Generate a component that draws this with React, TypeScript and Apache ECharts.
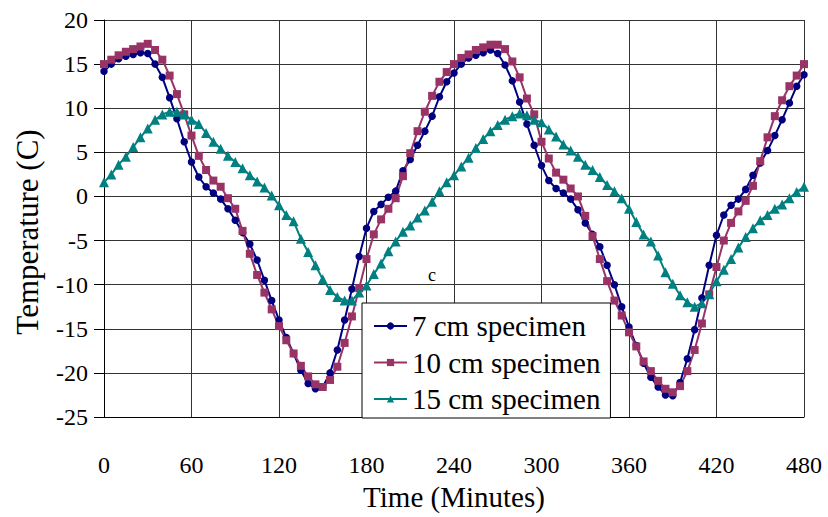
import React, { useEffect, useRef } from "react";
import * as echarts from "echarts";

const times = [
  0, 5, 10, 15, 20, 25, 30, 35, 40, 45, 50, 55, 60, 65, 70, 75, 80, 85, 90, 95,
  100, 105, 110, 115, 120, 125, 130, 135, 140, 145, 150, 155, 160, 165, 170, 175, 180, 185, 190, 195,
  200, 205, 210, 215, 220, 225, 230, 235, 240, 245, 250, 255, 260, 265, 270, 275, 280, 285, 290, 295,
  300, 305, 310, 315, 320, 325, 330, 335, 340, 345, 350, 355, 360, 365, 370, 375, 380, 385, 390, 395,
  400, 405, 410, 415, 420, 425, 430, 435, 440, 445, 450, 455, 460, 465, 470, 475, 480,
];

const specimen7 = [
  14.2, 15.0, 15.6, 15.9, 16.1, 16.3, 16.2, 15.0, 13.5, 11.2, 8.8, 6.2, 3.9, 2.2, 1.1, 0.4, -0.3, -1.4, -2.7, -4.1,
  -5.4, -7.2, -9.5, -11.8, -14.0, -16.0, -17.8, -19.7, -21.2, -21.8, -21.6, -20.0, -17.4, -14.0, -10.5, -6.8, -3.6, -1.7, -0.9, -0.1,
  0.6, 2.9, 4.2, 5.8, 7.4, 9.1, 11.3, 13.0, 14.0, 15.0, 15.7, 16.0, 16.3, 16.6, 16.2, 14.9, 13.1, 10.7, 8.2, 5.8,
  3.5, 1.8, 0.9, 0.4, -0.3, -1.5, -3.0, -4.3, -5.7, -7.8, -10.0, -12.5, -14.8, -16.9, -18.9, -20.5, -21.6, -22.5, -22.6, -21.1,
  -18.4, -15.1, -11.5, -7.8, -4.4, -2.1, -1.0, -0.3, 0.8, 2.4, 3.8, 5.2, 6.9, 8.7, 10.6, 12.5, 13.8,
];

const specimen10 = [
  15.0, 15.5, 16.0, 16.4, 16.7, 17.0, 17.3, 16.6, 15.5, 13.7, 11.6, 9.3, 6.9, 4.6, 3.0, 1.8, 1.1, -0.2, -1.4, -3.9,
  -6.5, -8.9, -10.9, -12.8, -14.7, -16.3, -17.8, -19.2, -20.4, -21.3, -21.6, -20.8, -19.3, -16.6, -13.6, -10.4, -7.1, -4.3, -2.6, -1.4,
  -0.2, 2.3, 4.9, 7.4, 9.6, 11.4, 13.0, 14.1, 15.0, 15.7, 16.1, 16.6, 16.9, 17.2, 17.2, 16.7, 15.3, 13.5, 11.1, 9.3,
  6.2, 4.3, 2.7, 1.9, 0.9, 0.0, -2.2, -4.5, -7.1, -9.6, -11.8, -13.5, -15.4, -17.0, -18.7, -19.8, -20.9, -21.8, -22.2, -21.5,
  -19.8, -17.4, -14.4, -11.1, -8.0, -5.0, -3.0, -1.7, -0.5, 1.2, 4.0, 6.7, 9.1, 10.9, 12.5, 13.7, 15.0,
];

const specimen15 = [
  1.6, 2.5, 3.6, 4.5, 5.6, 6.7, 7.7, 8.7, 9.3, 9.6, 9.6, 9.3, 8.7, 8.2, 7.2, 6.2, 5.4, 4.6, 3.9, 3.2,
  2.4, 1.7, 1.0, 0.1, -1.0, -2.1, -2.8, -4.8, -6.3, -7.8, -9.4, -10.6, -11.4, -11.8, -11.8, -10.9, -10.1, -8.8, -7.6, -6.2,
  -5.1, -4.0, -3.3, -2.4, -1.6, -0.6, 0.6, 1.6, 2.4, 3.4, 4.4, 5.5, 6.5, 7.4, 8.1, 8.7, 9.1, 9.4, 9.2, 8.7,
  8.4, 7.6, 6.8, 5.9, 5.2, 4.5, 3.6, 3.0, 2.2, 1.3, 0.6, -0.2, -1.4, -2.9, -4.3, -5.1, -6.7, -8.6, -9.9, -11.2,
  -12.0, -12.5, -12.1, -11.1, -9.6, -8.3, -7.1, -5.8, -4.6, -3.6, -2.7, -2.1, -1.4, -0.9, -0.2, 0.5, 1.1,
];

const seriesNames = ["7 cm specimen", "10 cm specimen", "15 cm specimen"];
const seriesColors = ["#000080", "#993366", "#008080"];
const seriesSymbols = ["circle", "rect", "triangle"];
const seriesSizes = [7.5, 8, 10];
const seriesValues = [specimen7, specimen10, specimen15];

const FONT = "Liberation Serif";

export default function App() {
  const ref = useRef<HTMLDivElement>(null);

  useEffect(() => {
    document.body.style.margin = "0";
    if (!ref.current) return;
    const chart = echarts.init(ref.current, undefined, { renderer: "svg" });
    const gridColor = "#333333";
    chart.setOption({
      animation: false,
      backgroundColor: "#ffffff",
      textStyle: { fontFamily: FONT },
      grid: { left: 104, right: 24, top: 20, bottom: 100, containLabel: false },
      xAxis: {
        type: "value",
        min: 0,
        max: 480,
        interval: 60,
        name: "Time (Minutes)",
        nameLocation: "middle",
        nameGap: 65,
        nameTextStyle: { fontFamily: FONT, fontSize: 29, color: "#000" },
        axisLine: { show: true, onZero: false, lineStyle: { color: "#000", width: 1 } },
        axisTick: { show: false },
        axisLabel: { fontFamily: FONT, fontSize: 24, color: "#000", margin: 36 },
        splitLine: { show: true, lineStyle: { color: gridColor, width: 1 } },
      },
      yAxis: {
        type: "value",
        min: -25,
        max: 20,
        interval: 5,
        axisLine: { show: true, lineStyle: { color: "#000", width: 1 } },
        axisTick: { show: true, length: 10, inside: false, lineStyle: { color: "#000" } },
        axisLabel: { fontFamily: FONT, fontSize: 24, color: "#000", margin: 16 },
        splitLine: { show: true, lineStyle: { color: gridColor, width: 1 } },
      },
      legend: {
        orient: "vertical",
        left: 362,
        top: 303,
        padding: [8, 10, 4, 11],
        itemGap: 6.5,
        itemWidth: 33,
        itemHeight: 9,
        backgroundColor: "#ffffff",
        borderColor: "#000000",
        borderWidth: 1,
        borderRadius: 0,
        textStyle: { fontFamily: FONT, fontSize: 29, color: "#000", lineHeight: 30 },
        data: seriesNames,
      },
      graphic: [
        {
          type: "text",
          x: 27,
          y: 232,
          rotation: Math.PI / 2,
          style: {
            text: "Temperature (C)",
            fontFamily: FONT,
            fontSize: 31,
            fill: "#000",
            align: "center",
            verticalAlign: "middle",
          },
        },
        {
          type: "text",
          left: 428,
          top: 266,
          style: { text: "c", fontFamily: FONT, fontSize: 18, fill: "#000" },
        },
      ],
      series: seriesValues.map((vals, i) => ({
        name: seriesNames[i],
        type: "line",
        data: vals.map((v, k) => [times[k], v]),
        symbol: seriesSymbols[i],
        symbolSize: seriesSizes[i],
        showAllSymbol: true,
        lineStyle: { color: seriesColors[i], width: 2 },
        itemStyle: { color: seriesColors[i] },
        emphasis: { disabled: true },
      })),
    });
    return () => chart.dispose();
  }, []);

  return <div ref={ref} style={{ width: 828, height: 517 }} />;
}
